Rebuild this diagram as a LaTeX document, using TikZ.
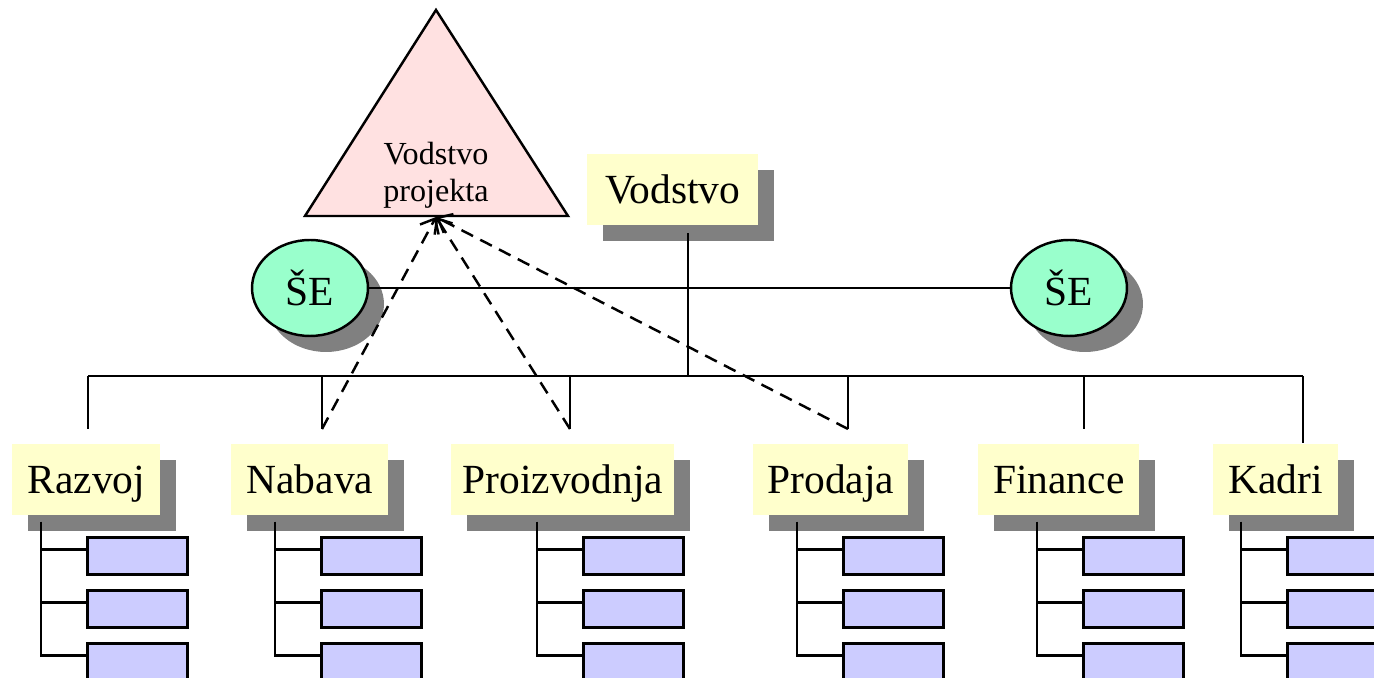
\documentclass[tikz,border=0pt]{standalone}
\usepackage{fontspec}
\setmainfont{Liberation Serif}
\usetikzlibrary{arrows.meta,shapes.geometric,shadows,positioning}
\definecolor{boxyellow}{HTML}{FFFFCC}
\definecolor{shadowgray}{HTML}{808080}
\definecolor{segreen}{HTML}{99FFCC}
\definecolor{subblue}{HTML}{CCCCFF}
\definecolor{tripink}{HTML}{FFE1E1}

\tikzset{
  myshadow/.style={drop shadow={shadow xshift=0.32cm, shadow yshift=-0.32cm, fill=shadowgray, opacity=1}},
  dept/.style={fill=boxyellow, myshadow, minimum height=1.42cm, inner xsep=2pt, anchor=north west,
    text height=17pt, text depth=1.6pt, font=\fontsize{23.6}{28}\selectfont},
  se/.style={ellipse, draw, fill=segreen, myshadow, line width=1.4pt, minimum width=2.32cm,
    minimum height=1.92cm, inner sep=0pt, font=\fontsize{23.6}{28}\selectfont},
  subbox/.style={draw, fill=subblue, line width=1.8pt, minimum width=2cm, minimum height=0.74cm,
    anchor=north west, inner sep=0pt},
  link/.style={line width=1.4pt},
  proj/.style={line width=1.4pt, dash pattern=on 7.4pt off 4.6pt, -{Straight Barb[length=7pt,width=12pt]}},
}

\begin{document}
\begin{tikzpicture}[x=0.02cm, y=-0.02cm]
        \useasboundingbox (0,0) rectangle (1374,678);

        % project leadership (triangle)
        \draw[fill=tripink, line width=1.4pt, line join=miter] (305,216) -- (436,10) -- (568,216) -- cycle;
        \node[align=center, inner sep=0pt, font=\fontsize{18.3}{21}\selectfont] (vp) at (436,175) {Vodstvo\\projekta};
        \coordinate (vpb) at (436,217);

        % leadership and staff units
        \node[dept, minimum width=3.42cm] (vod) at (587,154) {Vodstvo};
        \node[se] (seL) at (310,288) {ŠE};
        \node[se] (seR) at (1069,288) {ŠE};
        \coordinate (top) at (688,376);

        \draw[link] (seL.east) -- (seR.west);
        \draw[link, shorten >=0.14cm] (top) -- (top |- vod.south);

        % departments
        \node[dept, minimum width=2.96cm] (raz) at (12,444) {Razvoj};
        \node[dept, minimum width=3.14cm] (nab) at (231,444) {Nabava};
        \node[dept, minimum width=4.46cm] (pro) at (451,444) {Proizvodnja};
        \node[dept, minimum width=3.10cm] (prd) at (753,444) {Prodaja};
        \node[dept, minimum width=3.22cm] (fin) at (978,444) {Finance};
        \node[dept, minimum width=2.50cm] (kad) at (1213,444) {Kadri};

        \coordinate (razT) at (88,429);
        \coordinate (nabT) at (322,429);
        \coordinate (proT) at (570,429);
        \coordinate (prdT) at (848,429);
        \coordinate (finT) at (1084,429);
        \coordinate (kadT) at (1303,443);

        \draw[link] (razT |- top) -- (kadT |- top);
        \foreach \d in {raz,nab,pro,prd,fin,kad}
          \draw[link] (\d T |- top) -- (\d T);

        % project links
        \draw[proj] (nabT) -- (vpb);
        \draw[proj] (proT) -- (vpb);
        \draw[proj] (prdT) -- (vpb);

        % sub units
        \foreach \d/\vx in {raz/41,nab/275,pro/537,prd/797,fin/1037,kad/1241} {
          \coordinate (\d-v) at (\vx,522);
          \foreach \k in {1,2,3} {
            \node[subbox] (\d-\k) at (\vx+45,536+53*\k-53) {};
            \draw[link] (\d-v) |- ([yshift=0.13cm]\d-\k.west);
          }
        }

    \end{tikzpicture}
\end{document}
